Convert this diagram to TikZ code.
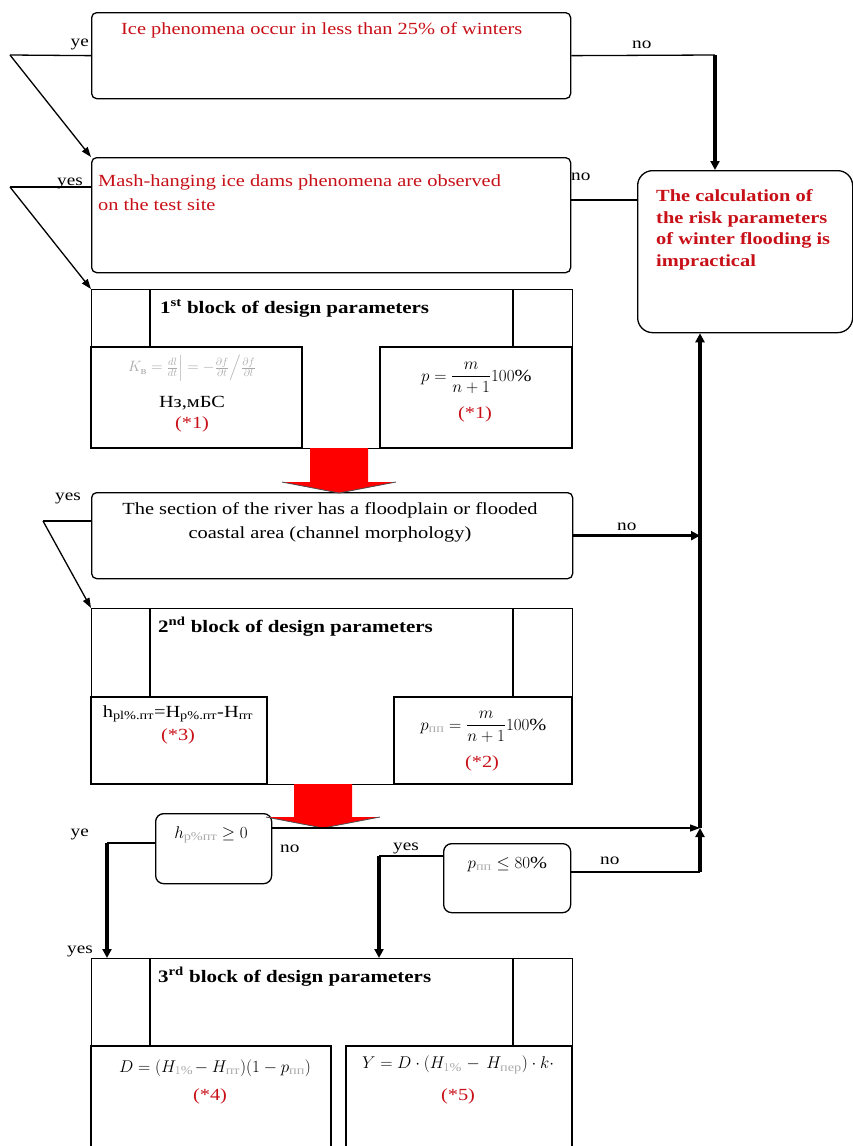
\RequirePackage{fix-cm}
\documentclass[tikz,border=0pt]{standalone}
\usepackage{amsmath}
\usepackage{fontspec}
\setmainfont{Liberation Serif}[FakeStretch=1.2]
\usetikzlibrary{arrows.meta}
\definecolor{txtred}{RGB}{200,16,24}
\definecolor{arrred}{RGB}{255,0,0}
\definecolor{faint}{RGB}{170,170,170}
\tikzset{
  condbox/.style={draw, line width=1.3pt, rounded corners=5pt, anchor=north west, inner sep=0pt},
  blockbox/.style={draw, line width=1.3pt, anchor=north west, inner sep=0pt},
  ruling/.style={line width=1.3pt},
  arr/.style={line width=1.3pt, -{Triangle[length=10pt,width=7pt]}},
  thickarr/.style={line width=3.5pt, -{Triangle[length=9pt,width=9pt]}},
  txt/.style={font=\fontsize{17}{23.5}\selectfont, inner sep=0pt},
  redtxt/.style={txt, text=txtred},
  titletxt/.style={txt, font=\fontsize{17.5}{24}\selectfont\bfseries},
  endtxt/.style={txt, font=\fontsize{17}{21.5}\selectfont\bfseries, text=txtred},
  lbl/.style={font=\fontsize{16}{18}\selectfont, inner sep=0pt},
}
\begin{document}
\begin{tikzpicture}[x=1pt,y=-1pt]
\useasboundingbox (0,0) rectangle (853,1146);
\fill[white] (0,0) rectangle (853,1146);
\clip (0,0) rectangle (853,1146);

% conditions
\node[condbox, minimum width=479pt, minimum height=86pt] (ice) at (91,12) {};
\node[condbox, minimum width=479pt, minimum height=115pt] (mash) at (91,157) {};
\node[condbox, minimum width=481pt, minimum height=86pt] (river) at (91,492) {};
\node[condbox, rounded corners=15pt, minimum width=215pt, minimum height=162pt] (calc) at (637,170) {};
\node[condbox, rounded corners=8pt, minimum width=116pt, minimum height=70pt] (hcheck) at (155,813) {};
\node[condbox, rounded corners=8pt, minimum width=127pt, minimum height=69pt] (pcheck) at (443,843) {};

% blocks of design parameters
\foreach \i/\ya/\yb/\yc/\xl/\xr in {1/289/347/448/302/380, 2/608/697/784/267/394, 3/958/1046/1180/331/346} {
  \node[blockbox, minimum width=481pt, minimum height={\yc-\ya}] (blk\i) at (91,\ya) {};
  \draw[ruling] (150,\ya) -- (150,\yb) (513,\ya) -- (513,\yb);
  \draw[ruling] (91,\yb) rectangle (\xl,\yc) (\xr,\yb) rectangle (572,\yc);
}

% red arrows between the blocks
\foreach \cx/\ya/\yb/\yc in {339/448/482/493, 323/784/817/828} {
  \fill[arrred] (\cx-29,\ya) -- (\cx+29,\ya) -- (\cx+29,\yb) -- (\cx+57,\yb)
    -- (\cx,\yc) -- (\cx-57,\yb) -- (\cx-29,\yb) -- cycle;
  \draw[black!70, line width=0.8pt] (\cx-57,\yb) -- (\cx,\yc) -- (\cx+57,\yb);
}

% texts (base of a two-line text is its last line)
\node[redtxt, anchor=base west] (icetxt) at (121,34) {Ice phenomena occur in less than 25\% of winters};
\node[redtxt, anchor=base west, align=left] (mashtxt) at (98,210) {Mash-hanging ice dams phenomena are observed\\on the test site};
\node[txt, anchor=base, align=center] (rivtxt) at (330,538) {The section of the river has a floodplain or flooded\\coastal area (channel morphology)};
\node[endtxt, anchor=base west, align=left] (calctxt) at (656,266) {The calculation of\\the risk parameters\\of winter flooding is\\impractical};

\node[titletxt, anchor=base west] (t1) at (160,313) {1\textsuperscript{st} block of design parameters};
\node[titletxt, anchor=base west] (t2) at (158,632) {2\textsuperscript{nd} block of design parameters};
\node[titletxt, anchor=base west] (t3) at (158,982) {3\textsuperscript{rd} block of design parameters};

\node[txt, font=\fontsize{15}{18}\selectfont, text=faint] (f1) at (192,368) {$K_{\text{в}}=\frac{dl}{dt}\Big|=-\frac{\partial f}{\partial t}\Big/\frac{\partial f}{\partial l}$};
\node[txt, anchor=base] (f1u) at (192,407) {Нз,мБС};
\node[redtxt, anchor=base] (n1a) at (192,428) {(*1)};
\node[txt] (f2) at (475,378) {$p=\dfrac{m}{n+1}100\%$};
\node[redtxt, anchor=base] (n1b) at (475,418) {(*1)};

\node[txt, anchor=base] (f3) at (178,717) {h\textsubscript{pl\%.пт}=H\textsubscript{p\%.пт}-H\textsubscript{пт}};
\node[redtxt, anchor=base] (n3) at (178,740) {(*3)};
\node[txt] (f4) at (482,727) {$p_{\color{faint}\text{пп}}=\dfrac{m}{n+1}100\%$};
\node[redtxt, anchor=base] (n2) at (482,767) {(*2)};

\node[txt] (f5) at (215,1068) {$D=\left(H_{\color{faint}1\%}-H_{\color{faint}\text{пт}}\right)\!(1-p_{\color{faint}\text{пп}})$};
\node[redtxt, anchor=base] (n4) at (210,1100) {(*4)};
\node[txt, anchor=west] (f6) at (362,1065) {$Y=D\cdot\left(H_{\color{faint}1\%}\,-\,H_{\color{faint}\text{пер}}\right)\cdot k\cdot$};
\node[redtxt, anchor=base] (n5) at (458,1100) {(*5)};

\node[txt, anchor=base] (htxt) at (211,838) {$h_{\color{faint}\text{p\%пт}}\geq 0$};
\node[txt, anchor=base] (ptxt) at (506,868) {$p_{\color{faint}\text{пп}}\leq 80\%$};

% connectors
\coordinate (iceyes) at (10,55);
\draw[ruling] (ice.west) -- (iceyes);
\draw[arr] (iceyes) -- (mash.north west);
\coordinate (iceno) at (715,55);
\draw[ruling] (ice.east) -- (iceno);
\draw[thickarr] (iceno) -- (iceno |- calc.north);

\coordinate (mashyes) at (10,187);
\draw[ruling] (mash.west |- mashyes) -- (mashyes);
\draw[arr] (mashyes) -- (blk1.north west);
\coordinate (mashno) at (600,200);
\draw[ruling] (mash.east |- mashno) -- (calc.west |- mashno);

\coordinate (rivyes) at (43,521);
\draw[ruling] (river.west |- rivyes) -- (rivyes);
\draw[arr] (rivyes) -- (blk2.north west);
\coordinate (riser) at (700,828);
\draw[thickarr] (river.east) -- (river.east -| riser);
\draw[thickarr] (riser) -- (riser |- calc.south);

\coordinate (hyes) at (107,843);
\draw[ruling] (hcheck.west |- hyes) -- (hyes);
\draw[thickarr] (hyes) -- (hyes |- blk3.north);
\draw[arr] (hcheck.east |- riser) -- (riser);

\coordinate (pyes) at (379,856);
\draw[ruling] (pcheck.west |- pyes) -- (pyes);
\draw[thickarr] (pyes) -- (pyes |- blk3.north);
\coordinate (pno) at (700,872);
\draw[ruling] (pcheck.east |- pno) -- (pno);
\draw[thickarr] (pno) -- (riser);

% yes / no labels
\node[lbl, anchor=base east] (l1) at (89,46) {ye};
\node[lbl, anchor=base west] (l2) at (632,48) {no};
\node[lbl, anchor=base east] (l3) at (83,185) {yes};
\node[lbl, anchor=base west] (l4) at (571,180) {no};
\node[lbl, anchor=base east] (l5) at (81,500) {yes};
\node[lbl, anchor=base west] (l6) at (617,530) {no};
\node[lbl, anchor=base east] (l7) at (89,836) {ye};
\node[lbl, anchor=base west] (l8) at (280,852) {no};
\node[lbl, anchor=base east] (l9) at (419,850) {yes};
\node[lbl, anchor=base west] (l10) at (600,864) {no};
\node[lbl, anchor=base east] (l11) at (93,953) {yes};
\end{tikzpicture}
\end{document}
